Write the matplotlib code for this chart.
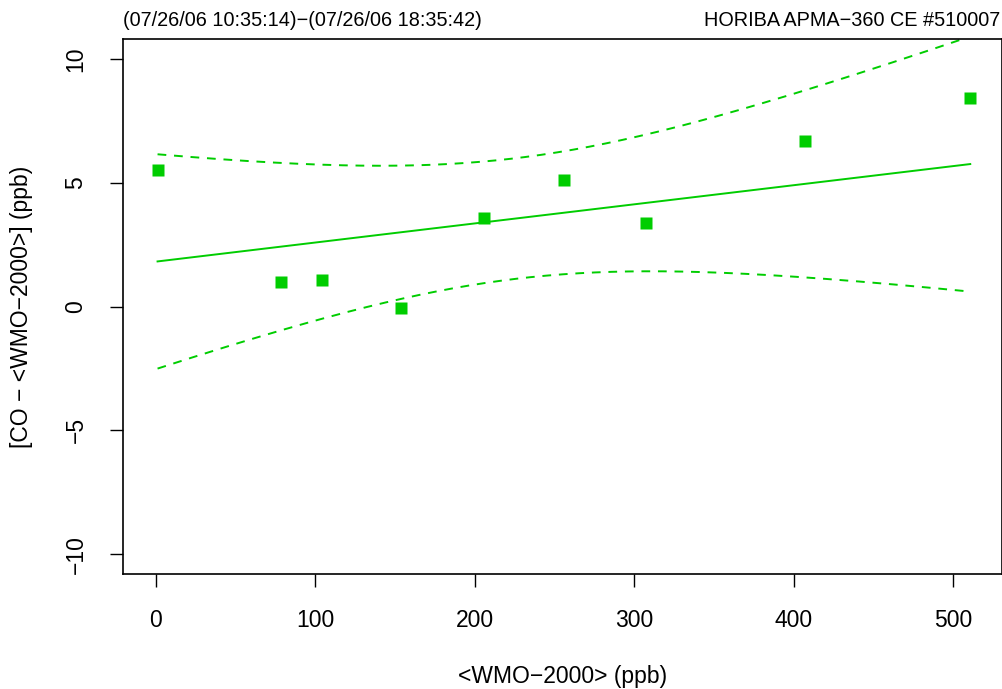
import numpy as np
import matplotlib
matplotlib.use('Agg')
import matplotlib.pyplot as plt

plt.rcParams['font.family'] = ['Liberation Sans', 'DejaVu Sans']

# points
wmo = [1.25, 78.75, 104, 154, 206, 256, 307.5, 407, 510.5]
diff = [5.52, 1.00, 1.09, -0.08, 3.59, 5.12, 3.39, 6.69, 8.43]

# fitted line and its confidence band
fit_a = 1.81
fit_b = 0.00772
ci_c2 = 5.93      # squared half-width at the centre
ci_k = 0.0002538  # growth of squared half-width
ci_x0 = 225.7     # centre of the band

xticks = [0, 100, 200, 300, 400, 500]
yticks = [-10, -5, 0, 5, 10]

green = '#00CD00'

fig = plt.figure(figsize=(10.03, 6.89), dpi=100)
ax = fig.add_axes([123/1003, 1 - 574/689, 879/1003, 535/689])

xs = np.linspace(min(wmo), max(wmo), 300)
fit = fit_a + fit_b * xs
half = np.sqrt(ci_c2 + ci_k * (xs - ci_x0) ** 2)

ax.plot(xs, fit, color=green, lw=1.4)
ax.plot(xs, fit + half, color=green, lw=1.4, dashes=(4.5, 4))
ax.plot(xs, fit - half, color=green, lw=1.4, dashes=(4.5, 4))
ax.plot(wmo, diff, 's', color=green, ms=8, mec='none')

ax.set_xlim(-20.4, 530.4)
ax.set_ylim(-10.8, 10.8)
ax.set_xticks(xticks)
ax.set_yticks(yticks)
ax.set_yticklabels([str(v).replace('-', '\u2212') for v in yticks], rotation=90, va='center')
ax.tick_params(labelsize=16.5, length=9.5, width=1, pad=16, direction='out')
for s in ax.spines.values():
    s.set_linewidth(1.2)

fig.text(563/1003, 1 - 676/689, '<WMO\u22122000> (ppb)', ha='center', va='center', fontsize=16.5)
fig.text(22/1003, 1 - 307/689, '[CO \u2212 <WMO\u22122000>] (ppb)', ha='center', va='center',
         rotation=90, fontsize=16.5)
fig.text(123/1003, 1 - 21/689, '(07/26/06 10:35:14)\u2212(07/26/06 18:35:42)', ha='left', va='center',
         fontsize=14.3)
fig.text(1000/1003, 1 - 21/689, 'HORIBA APMA\u2212360 CE #510007', ha='right', va='center',
         fontsize=14.3)

fig.savefig('out.png', dpi=100)
